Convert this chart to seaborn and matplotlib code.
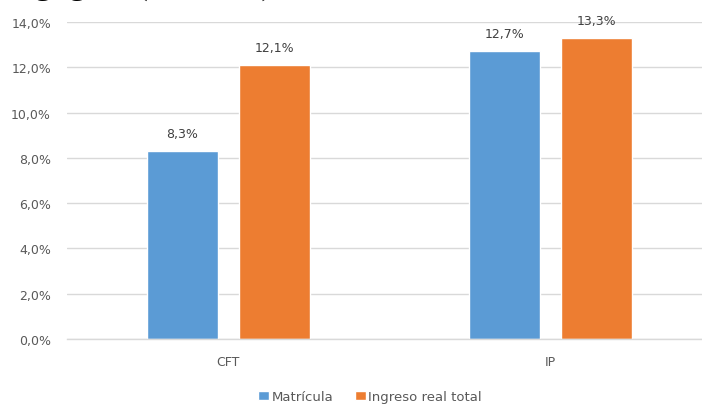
import matplotlib
matplotlib.use("Agg")
import matplotlib.pyplot as plt
import seaborn as sns
import pandas as pd

# Data
categories = ["CFT", "IP"]
series = ["Matrícula", "Ingreso real total"]
matricula = [8.3, 12.7]
ingreso = [12.1, 13.3]
y_ticks = [0, 2, 4, 6, 8, 10, 12, 14]
colors = ["#5B9BD5", "#ED7D31"]

df = pd.DataFrame({
    "tipo": categories * 2,
    "serie": [series[0]] * len(categories) + [series[1]] * len(categories),
    "valor": matricula + ingreso,
})

sns.set_theme(style="white")
plt.rcParams["font.family"] = ["DejaVu Sans"]

W, H = 702, 406
fig = plt.figure(figsize=(W / 100, H / 100), dpi=100)
ax = fig.add_axes([67 / W, 66 / H, 645 / W, 317 / H])

sns.barplot(data=df, x="tipo", y="valor", hue="serie", order=categories,
            hue_order=series, palette=colors, saturation=1,
            width=0.568, gap=0.224, ax=ax)

ax.set_xlim(-0.5, 1.5)
ax.set_ylim(0, 14)
ax.set_yticks(y_ticks)
ax.set_yticklabels([f"{t:.1f}%".replace(".", ",") for t in y_ticks])
ax.set_xlabel("")
ax.set_ylabel("")

grid_c = "#d9d9d9"
ax.yaxis.grid(True, color=grid_c, linewidth=1.0)
ax.set_axisbelow(True)
for side in ["left", "right", "top"]:
    ax.spines[side].set_visible(False)
ax.spines["bottom"].set_color(grid_c)
ax.spines["bottom"].set_linewidth(1.0)

ax.tick_params(axis="y", length=0, pad=11.5, labelsize=9, labelcolor="#595959")
ax.tick_params(axis="x", length=0, pad=11.5, labelsize=9, labelcolor="#595959")

# Value labels above each bar
for container, vals in zip(ax.containers, [matricula, ingreso]):
    for bar, v in zip(container, vals):
        ax.annotate(f"{v:.1f}%".replace(".", ","),
                    (bar.get_x() + bar.get_width() / 2, v),
                    xytext=(0, 8), textcoords="offset points",
                    ha="center", va="bottom", fontsize=9, color="#404040")

# Legend centred below the chart
handles, labels = ax.get_legend_handles_labels()
ax.legend_.remove()
fig.legend(handles, labels, loc="center", bbox_to_anchor=(370 / W, 8 / H),
           ncol=2, frameon=False, fontsize=9.5, labelcolor="#595959",
           handlelength=0.83, handleheight=0.68, handletextpad=0.2,
           columnspacing=1.6, borderpad=0)

# Caption line running above the top edge of the canvas
fig.text(-30 / W, 1 + 6 / H, "pedagógico (2005-13)", family="Liberation Serif",
         fontsize=24.7, color="#000000", ha="left", va="baseline")

fig.savefig("out.png", dpi=100)
